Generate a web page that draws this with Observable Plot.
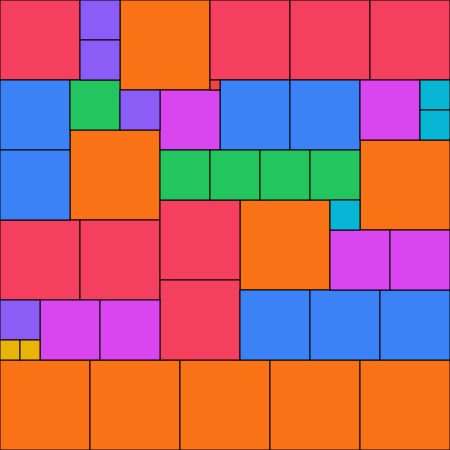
<!DOCTYPE html>
<html>
<head>
<meta charset="utf-8">
<script src="https://cdn.jsdelivr.net/npm/d3@7"></script>
<script src="https://cdn.jsdelivr.net/npm/@observablehq/plot@0.6"></script>
<style>
html, body { margin: 0; padding: 0; background: #fff; }
#chart svg { display: block; }
</style>
</head>
<body>
<div id="chart"></div>
<script>
// Partridge tiling of order 9: n squares of side n (units of 10 px)
const sizes = [9,9,9,9,9,9,9,9,9, 8,8,8,8,8,8,8,8, 7,7,7,7,7,7,7, 6,6,6,6,6,6, 5,5,5,5,5, 4,4,4,4, 3,3,3, 2,2, 1];
const xs    = [12,7,36,24,0,9,18,27,36, 0,21,29,37,0,8,16,16, 0,22,29,0,24,31,38, 16,36,33,39,4,10, 7,16,21,26,31, 8,8,12,0, 42,42,33, 0,2, 21];
const ys    = [0,13,14,20,36,36,36,36,36, 0,0,0,0,22,22,20,28, 8,8,8,15,29,29,29, 9,8,23,23,30,30, 8,15,15,15,15, 0,4,9,30, 8,11,20, 34,34, 8];
const sizeDomain = [1,2,3,4,5,6,7,8,9];
const sizeColors = ["#ef4444","#eab308","#06b6d4","#8b5cf6","#22c55e","#d946ef","#3b82f6","#f43f5e","#f97316"];

const squares = sizes.map((s, i) => ({size: s, x1: xs[i], y1: ys[i], x2: xs[i] + s, y2: ys[i] + s}));

const chart = Plot.plot({
  width: 450,
  height: 450,
  margin: 0,
  x: {domain: [0, 45], range: [0, 450], axis: null},
  y: {domain: [0, 45], range: [0, 450], axis: null},
  color: {type: "ordinal", domain: sizeDomain, range: sizeColors},
  marks: [
    Plot.rect(squares, {x1: "x1", x2: "x2", y1: "y1", y2: "y2", fill: "size", stroke: "black", strokeWidth: 1})
  ]
});
document.getElementById("chart").appendChild(chart);
</script>
</body>
</html>
